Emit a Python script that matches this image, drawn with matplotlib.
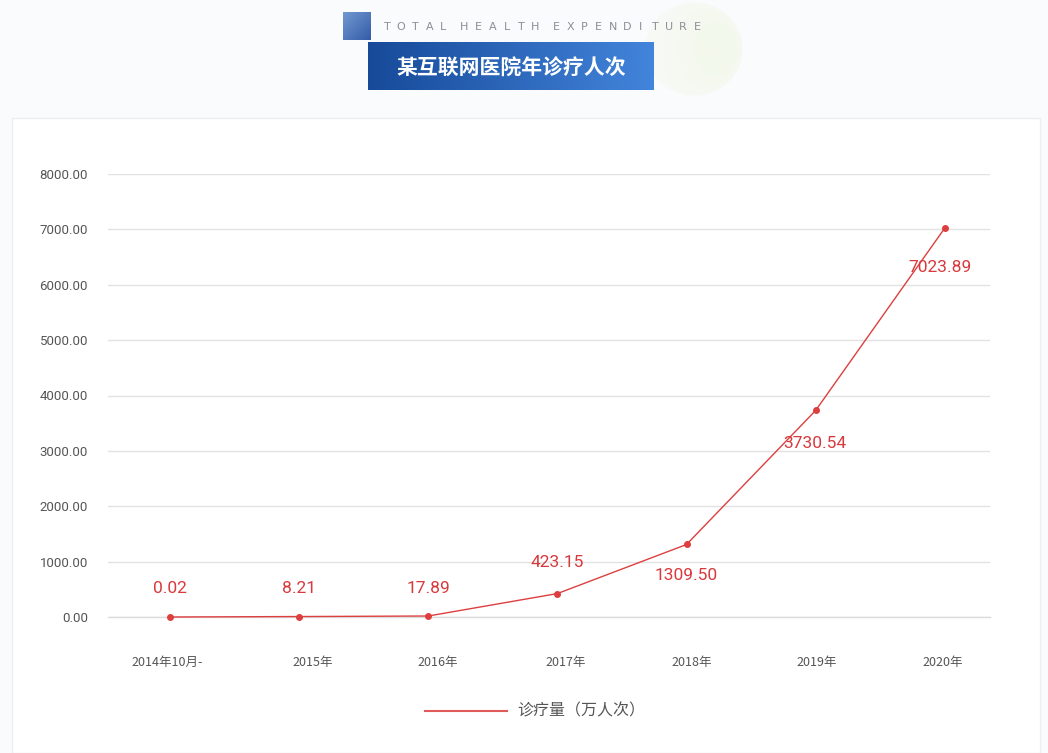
import matplotlib
matplotlib.use("Agg")
import matplotlib.pyplot as plt
import matplotlib.transforms as mtransforms
import numpy as np
from matplotlib.patches import Rectangle

plt.rcParams['font.family'] = ['Noto Sans CJK SC', 'DejaVu Sans']

categories = ["2014年10月-", "2015年", "2016年", "2017年", "2018年", "2019年", "2020年"]
values = [0.02, 8.21, 17.89, 423.15, 1309.50, 3730.54, 7023.89]
series_name = "诊疗量（万人次）"
title_cn = "某互联网医院年诊疗人次"
title_en = "TOTAL HEALTH EXPENDITURE"
y_ticks = [0, 1000, 2000, 3000, 4000, 5000, 6000, 7000, 8000]

W, H = 1048, 753
fig = plt.figure(figsize=(W / 100, H / 100), dpi=100)
fig.patch.set_facecolor("#fafbfc")

def fx(x): return x / W
def fy(y): return 1 - y / H

# white card
card = Rectangle((fx(12), 0), fx(1040) - fx(12), fy(118), transform=fig.transFigure,
                 facecolor="white", edgecolor="#eceef2", linewidth=1.0, zorder=-10)
fig.patches.append(card)

# faint green circle in header
gax = fig.add_axes([fx(645), fy(96), fx(98), (96 - 2) / H])
gax.axis("off")
yy, xx = np.mgrid[-1:1:200j, -1:1:200j]
r = np.sqrt(xx ** 2 + yy ** 2)
alpha = np.where(r <= 1, 0.12 + 0.35 * np.clip((xx + 1) / 2, 0, 1) * np.clip(1 - r, 0, 1) ** 0.3, 0)
img = np.zeros((200, 200, 4))
img[..., 0] = 0.90
img[..., 1] = 0.95
img[..., 2] = 0.80
img[..., 3] = alpha
gax.imshow(img, extent=[0, 1, 0, 1], aspect="auto")

# small square
sax = fig.add_axes([fx(343), fy(40), fx(371) - fx(343), (40 - 12) / H])
sax.axis("off")
grad = np.linspace(0, 1, 100)
sq = np.zeros((100, 100, 3))
c1 = np.array([0.45, 0.60, 0.82]); c2 = np.array([0.20, 0.36, 0.66])
for i in range(3):
    sq[..., i] = c1[i] + (c2[i] - c1[i]) * (grad[None, :] * 0.5 + grad[:, None] * 0.5)
sax.imshow(sq, extent=[0, 1, 0, 1], aspect="auto")

# blue title banner
bax = fig.add_axes([fx(368), fy(90), fx(654) - fx(368), (90 - 42) / H])
bax.axis("off")
ban = np.zeros((10, 200, 3))
a = np.array([0.09, 0.29, 0.60]); b = np.array([0.26, 0.52, 0.86])
for i in range(3):
    ban[..., i] = a[i] + (b[i] - a[i]) * np.linspace(0, 1, 200)[None, :]
bax.imshow(ban, extent=[0, 1, 0, 1], aspect="auto")
bax.set_xlim(0, 1); bax.set_ylim(0, 1)

fig.text(fx(511), fy(68), title_cn, color="white", fontsize=15, fontweight="bold",
         ha="center", va="center")
# letter-spaced english subtitle
pos = 387.0
pitch = 14.1
for ch in title_en:
    if ch == " ":
        pos += pitch * 0.5
        continue
    fig.text(fx(pos), fy(27), ch, color="#8a8f98", fontsize=8,
             ha="center", va="center", family="DejaVu Sans")
    pos += pitch

# main axes
left, right = 108, 990
top, bottom = 174, 617
ax = fig.add_axes([fx(left), fy(bottom), fx(right) - fx(left), (bottom - top) / H])
ax.set_facecolor("none")
x = np.arange(len(categories))
ax.set_xlim(-0.48, 6.35)
ax.set_ylim(0, 8000)
ax.set_yticks(y_ticks)
ax.set_yticklabels([f"{v:.2f}" for v in y_ticks], family="Roboto")
ax.set_xticks(x)
ax.set_xticklabels(categories)
for s in ax.spines.values():
    s.set_visible(False)
ax.grid(axis="y", color="#e2e2e2", linewidth=1.0)
ax.axhline(0, color="#dcdcdc", linewidth=1.0, clip_on=False, zorder=1)
ax.set_axisbelow(True)
ax.tick_params(axis="both", length=0, colors="#555555", labelsize=9)
ax.tick_params(axis="y", pad=14.4, labelsize=9.5)
ax.tick_params(axis="x", pad=28)
# small horizontal nudges to the category labels
label_dx = [-3, 14, 9, 8, 5, 1, -2]
for lab, dx in zip(ax.get_xticklabels(), label_dx):
    lab.set_transform(lab.get_transform() +
                      mtransforms.ScaledTranslation(dx / 100, 0, fig.dpi_scale_trans))

red = "#dd3f3f"
line, = ax.plot(x, values, color=red, linewidth=1.0, marker="o", markersize=4,
                clip_on=False, zorder=3, label=series_name)

offsets = [(0, 28), (0, 28), (0, 28), (0, 31), (0, -31), (-1, -33), (-5, -39)]
for xi, v, (dx, dy) in zip(x, values, offsets):
    ax.annotate(f"{v:.2f}", (xi, v), xytext=(dx, dy), textcoords="offset pixels",
                ha="center", va="center", color="#d8393c", fontsize=12.5,
                family="Roboto", zorder=4)

# legend
fig.lines.append(plt.Line2D([fx(425), fx(507)], [fy(711), fy(711)], color="#e05a5a",
                            linewidth=1.5, transform=fig.transFigure))
fig.text(fx(517), fy(711), series_name, color="#555555", fontsize=11.5,
         ha="left", va="center")

fig.savefig("out.png", dpi=100, facecolor=fig.get_facecolor())
